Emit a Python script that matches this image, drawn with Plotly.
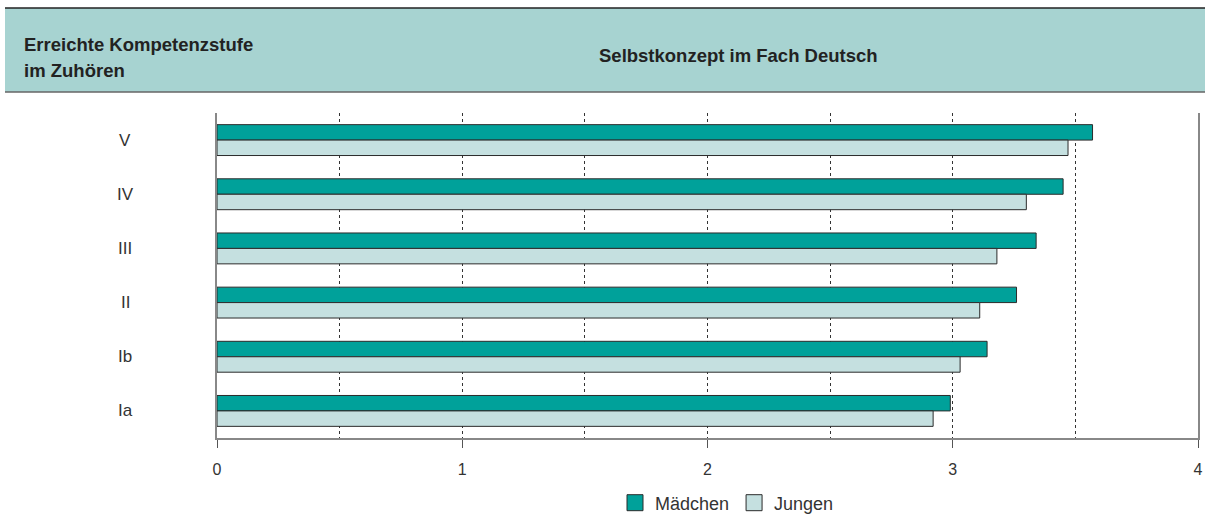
import plotly.graph_objects as go

categories = ["V", "IV", "III", "II", "Ib", "Ia"]
maedchen = [3.57, 3.45, 3.34, 3.26, 3.14, 2.99]
jungen = [3.47, 3.30, 3.18, 3.11, 3.03, 2.92]
x_ticks = [0, 1, 2, 3, 4]
series_names = ["Mädchen", "Jungen"]
header_left = ["Erreichte Kompetenzstufe", "im Zuhören"]
header_title = "Selbstkonzept im Fach Deutsch"

TEAL = "#00A19A"
LIGHT = "#C5E0E0"
BAND = "#A7D3D1"
OUTLINE = "#2b2b2b"
FONT = "Liberation Sans, Arial, sans-serif"

fig = go.Figure()
for name, vals, col in zip(series_names, [maedchen, jungen], [TEAL, LIGHT]):
    fig.add_trace(go.Bar(y=categories, x=vals, name=name, orientation="h", showlegend=False,
                         marker=dict(color=col, line=dict(color=OUTLINE, width=1))))
# legend entries with larger square symbols
for name, col in zip(series_names, [TEAL, LIGHT]):
    fig.add_trace(go.Scatter(x=[None], y=[None], mode="markers", name=name,
                             marker=dict(symbol="square", size=16, color=col,
                                         line=dict(color=OUTLINE, width=1))))

W, H = 1205, 516
L, R, T, B = 217, 7, 113, 78
ph = H - T - B
pw = W - L - R

def py(ypx):
    return (H - B - ypx) / ph

def px(xpx):
    return (xpx - L) / pw

fig.update_layout(
    template=None,
    width=W, height=H,
    margin=dict(l=L, r=R, t=T, b=B, autoexpand=False),
    paper_bgcolor="white", plot_bgcolor="white",
    barmode="group", bargap=0.43, bargroupgap=0,
    font=dict(family=FONT, size=17, color="#333333"),
    showlegend=True,
    legend=dict(orientation="h", xref="container", yref="container",
                x=727 / W, xanchor="center", y=1 - 503 / H, yanchor="middle",
                font=dict(size=18, color="#333333"), traceorder="normal",
                itemwidth=30, bgcolor="rgba(0,0,0,0)"),
    xaxis=dict(range=[0, 4], tickvals=x_ticks, ticktext=[str(v) for v in x_ticks],
               automargin=False,
               showgrid=True, gridcolor="#333333", griddash="dot", gridwidth=1,
               minor=dict(dtick=0.5, showgrid=True, gridcolor="#333333", griddash="dot", gridwidth=1),
               showline=True, linecolor="#888888", linewidth=1.5,
               ticks="outside", ticklen=8, tickcolor="#555555", tickwidth=1,
               ticklabelstandoff=8,
               tickfont=dict(size=16, color="#333333"), zeroline=False),
    yaxis=dict(type="category", categoryorder="array", categoryarray=categories,
               automargin=False,
               range=[len(categories) - 0.5, -0.5], showticklabels=False,
               showline=True, mirror=True, linecolor="#888888", linewidth=1.5,
               showgrid=False, zeroline=False, ticks=""),
)

# header band
fig.add_shape(type="rect", xref="paper", yref="paper",
              x0=px(5), x1=px(W + 5), y0=py(92), y1=py(8),
              fillcolor=BAND, line=dict(width=0), layer="below")
fig.add_shape(type="line", xref="paper", yref="paper",
              x0=px(5), x1=px(W + 5), y0=py(8), y1=py(8),
              line=dict(color="#222222", width=1.5))
fig.add_shape(type="line", xref="paper", yref="paper",
              x0=px(5), x1=px(W + 5), y0=py(92), y1=py(92),
              line=dict(color="#666666", width=1.5))

for i, line in enumerate(header_left):
    fig.add_annotation(xref="paper", yref="paper", x=px(22), y=py(44 + 26 * i),
                       xanchor="left", yanchor="middle",
                       text="<b>" + line + "</b>", showarrow=False,
                       font=dict(size=18.5, color="#222222", family=FONT))
fig.add_annotation(xref="paper", yref="paper", x=px(738), y=py(55), xanchor="center", yanchor="middle",
                   text="<b>" + header_title + "</b>", showarrow=False,
                   font=dict(size=18.5, color="#222222", family=FONT))

for c in categories:
    fig.add_annotation(xref="paper", yref="y", x=px(125), y=c, xanchor="center", yanchor="middle",
                       text=c, showarrow=False, font=dict(size=17, color="#333333", family=FONT))

fig.write_html("out.html", config={"displayModeBar": False})

with open("out.html", encoding="utf-8") as f:
    html = f.read()
html = html.replace("<head>", "<head><style>html,body{margin:0;padding:0;overflow:hidden;}</style>", 1)
with open("out.html", "w", encoding="utf-8") as f:
    f.write(html)
